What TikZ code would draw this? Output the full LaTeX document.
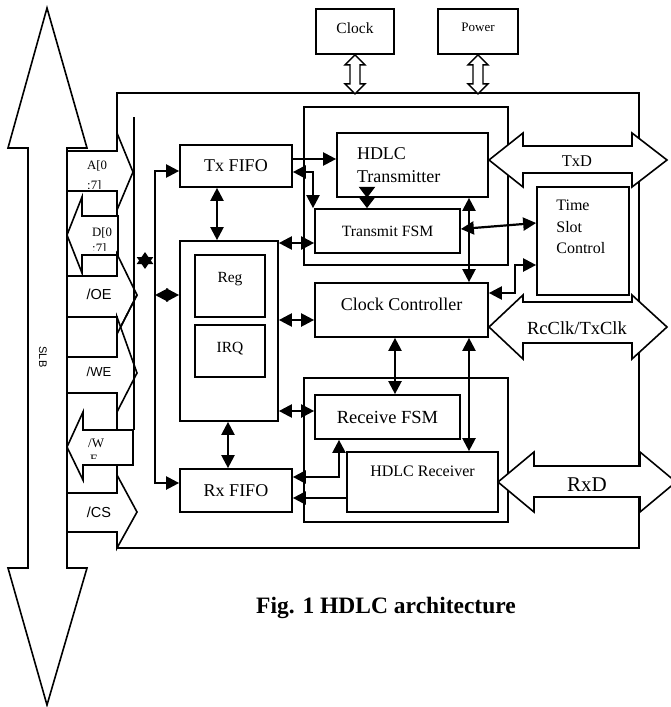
\documentclass[tikz,border=0pt]{standalone}
\usepackage{fontspec}
\setmainfont{Liberation Serif}
\newfontfamily\arialfont{Liberation Sans}
\usetikzlibrary{arrows.meta,positioning}

\tikzset{
  box/.style={draw, line width=1.7pt, inner sep=2pt, font=\fontsize{18}{21}\selectfont},
  grp/.style={draw, line width=1.7pt, inner sep=0pt},
  blk/.style={draw, fill=white, line width=1.6pt, line join=miter},
  link/.style={line width=2.2pt, {Triangle[length=13pt,width=13pt]}-{Triangle[length=13pt,width=13pt]}},
  feed/.style={line width=2.2pt, -{Triangle[length=13pt,width=13pt]}},
  sig/.style={font=\arialfont\fontsize{14.5}{16}\selectfont, inner sep=0pt},
  pinlbl/.style={font=\fontsize{12.8}{15}\selectfont, inner sep=0pt, anchor=base west},
}

\begin{document}
\begin{tikzpicture}[x=1pt, y=-1pt]
        \useasboundingbox (0,0) rectangle (670,707);

        % Outer chip and the two groups
        \node[grp, minimum width=522pt, minimum height=455pt] (hdlc) at (378,320.5) {};
        \node[grp, minimum width=204pt, minimum height=158pt] (txgrp) at (406,186) {};
        \node[grp, minimum width=204pt, minimum height=144pt] (rxgrp) at (406,450) {};

        % Clock and power inputs
        \node[box, minimum width=78pt, minimum height=45pt, text depth=7pt, font=\fontsize{15.5}{18}\selectfont] (clock) at (355,31.5) {Clock};
        \node[box, minimum width=80pt, minimum height=45pt, text depth=8pt, font=\fontsize{13}{15}\selectfont] (power) at (478,31.5) {Power};
        \foreach \n in {clock,power}
          \draw[blk, line width=1.3pt] (\n.south) -- ++(10,10) -- ++(-5,0) -- ++(0,19) -- ++(5,0) -- ++(-10,10)
            -- ++(-10,-10) -- ++(5,0) -- ++(0,-19) -- ++(-5,0) -- cycle;

        % Host side blocks
        \node[box, minimum width=112pt, minimum height=42pt] (txfifo) at (236,166) {Tx FIFO};
        \node[box, minimum width=98pt, minimum height=180pt] (regbox) at (229,331) {};
        \node[box, minimum width=70pt, minimum height=62pt, text depth=18pt, font=\fontsize{15.5}{18}\selectfont] (reg) at (230,286) {Reg};
        \node[box, minimum width=70pt, minimum height=52pt, text depth=8pt, font=\fontsize{15.5}{18}\selectfont] (irq) at (230,351) {IRQ};
        \node[box, minimum width=112pt, minimum height=43pt] (rxfifo) at (236,490.5) {Rx FIFO};

        % Line side blocks
        \node[box, minimum width=151pt, minimum height=64pt, text width=111pt, inner xsep=20pt, align=left,
              font=\fontsize{18}{23}\selectfont] (hdlctx) at (412.5,165) {HDLC\\Transmitter};
        \node[box, minimum width=145pt, minimum height=44pt, font=\fontsize{15.7}{18}\selectfont] (txfsm) at (387.5,231) {Transmit FSM};
        \node[box, minimum width=173pt, minimum height=54pt, text depth=12pt] (clkctrl) at (401.5,310) {Clock Controller};
        \node[box, minimum width=92pt, minimum height=108pt] (tsc) at (583,241) {};
        \node[align=left, inner sep=0pt, anchor=north west, font=\fontsize{16}{21.5}\selectfont,
              below right=14pt and 20pt of tsc.north west] (tsctxt) {Time\\Slot\\Control};
        \node[box, minimum width=145pt, minimum height=44pt, font=\fontsize{18.5}{21}\selectfont] (rxfsm) at (387.5,417) {Receive FSM};
        \node[box, minimum width=151pt, minimum height=60pt, text depth=22pt, font=\fontsize{16}{19}\selectfont] (hdlcrx) at (422.5,482) {HDLC Receiver};

        % SLB bus
        \draw[blk] (47,8) -- (87,148) -- (67,148) -- (67,568) -- (87,568) -- (47,705) -- (8,568) -- (28,568) -- (28,148) -- (8,148) -- cycle;
        \node[sig, rotate=-90, font=\arialfont\fontsize{11}{13}\selectfont] (slb) at (43,357) {SLB};

        % Signal arrows
        \draw[blk] (67,151) -- (117,151) -- (117,133) -- (133,172) -- (117,210) -- (117,191) -- (67,191) -- cycle;
        \draw[blk] (67,235) -- (82,197) -- (82,216) -- (118,216) -- (118,255) -- (82,255) -- (82,273) -- cycle;
        \draw[blk] (67,276) -- (117,276) -- (117,254) -- (137,295) -- (117,334) -- (117,317) -- (67,317) -- cycle;
        \draw[blk] (67,357) -- (117,357) -- (117,317) -- (137,373) -- (117,412) -- (117,393) -- (67,393) -- cycle;
        \draw[line width=1.6pt] (137,295) -- (117,334);
        \draw[blk] (67,447) -- (83,412) -- (83,430) -- (133,430) -- (133,465) -- (83,465) -- (83,480) -- cycle;
        \draw[blk] (67,493) -- (117,493) -- (117,475) -- (137,512) -- (117,548) -- (117,532) -- (67,532) -- cycle;
        \draw[line width=1.6pt] (134,117) -- (134,430);

        \begin{scope}
          \clip (67,151) rectangle (117,188);
          \node[pinlbl] (addr) at (87,169) {A[0};
          \node[pinlbl] (addrb) at (87,189.5) {:7]};
        \end{scope}
        \begin{scope}
          \clip (82,216) rectangle (118,250);
          \node[pinlbl] (data) at (92,236) {D[0};
          \node[pinlbl] (datab) at (92,252) {:7]};
        \end{scope}
        \begin{scope}
          \clip (83,430) rectangle (133,458);
          \node[pinlbl, font=\fontsize{13}{15}\selectfont] (wr) at (88,447) {/W};
          \node[pinlbl] (wrb) at (90,463.5) {E};
        \end{scope}
        \node[sig] (oe) at (99,294) {/OE};
        \node[sig, font=\arialfont\fontsize{13}{15}\selectfont] (we) at (99,371.5) {/WE};
        \node[sig] (cs) at (99,512) {/CS};

        % Line side block arrows
        \draw[blk] (489,160) -- (523,133) -- (523,146) -- (632,146) -- (632,133) -- (667,160) -- (632,187) -- (632,173) -- (523,173) -- (523,187) -- cycle;
        \draw[blk] (489,327) -- (523,295) -- (523,302) -- (632,302) -- (632,295) -- (667,327) -- (632,359) -- (632,343) -- (523,343) -- (523,359) -- cycle;
        \draw[blk] (498,482) -- (534,452) -- (534,466) -- (640,466) -- (640,452) -- (676,482) -- (640,512) -- (640,497) -- (534,497) -- (534,512) -- cycle;
        \node[font=\fontsize{16.4}{18}\selectfont] (txd) at (577,161) {TxD};
        \node[font=\fontsize{18.5}{20}\selectfont] (rcclk) at (577,328) {RcClk/TxClk};
        \node[font=\fontsize{21}{24}\selectfont] (rxd) at (587,485) {RxD};

        % Internal bus
        \draw[link] (txfifo.west |- 0,171) -- (155,171) -- (155,483) -- (rxfifo.west |- 0,483);
        \draw[line width=2.2pt, {Triangle[length=12pt,width=16pt]}-{Triangle[length=12pt,width=16pt]}] (145,252) -- (145,269);
        \draw[link] (155,295) -- (regbox.west |- 0,295);

        % Connections
        \draw[link] (txfifo.south -| 217,0) -- (regbox.north -| 217,0);
        \draw[link] (regbox.south -| 228,0) -- (rxfifo.north -| 228,0);
        \draw[feed] (txfifo.east |- 0,159) -- (hdlctx.west |- 0,159);
        \draw[link] (txfifo.east |- 0,172) -- (313,172) -- (txfsm.north -| 313,0);
        \draw[line width=2.2pt, {Triangle[length=11pt,width=16pt]}-{Triangle[length=11pt,width=16pt]}]
          (hdlctx.south -| 367,0) -- (txfsm.north -| 367,0);
        \draw[link] (regbox.east |- 0,243) -- (txfsm.west |- 0,243);
        \draw[link] (regbox.east |- 0,320) -- (clkctrl.west |- 0,320);
        \draw[link] (regbox.east |- 0,411) -- (rxfsm.west |- 0,411);
        \draw[link] (txfsm.east |- 0,229) -- (tsc.west |- 0,223);
        \draw[link] (hdlctx.south -| 469,0) -- (clkctrl.north -| 469,0);
        \draw[link] (clkctrl.east |- 0,293) -- (515,293) -- (515,265) -- (tsc.west |- 0,265);
        \draw[link] (clkctrl.south -| 395,0) -- (rxfsm.north -| 395,0);
        \draw[link] (clkctrl.south -| 469,0) -- (hdlcrx.north -| 469,0);
        \draw[link] (rxfifo.east |- 0,477) -- (339,477) -- (rxfsm.south -| 339,0);
        \draw[feed] (hdlcrx.west |- 0,498) -- (rxfifo.east |- 0,498);

        % Caption
        \node[anchor=base, font=\bfseries\fontsize{23.5}{28}\selectfont] (caption) at (386,613) {Fig. 1 HDLC architecture};
\end{tikzpicture}
\end{document}
